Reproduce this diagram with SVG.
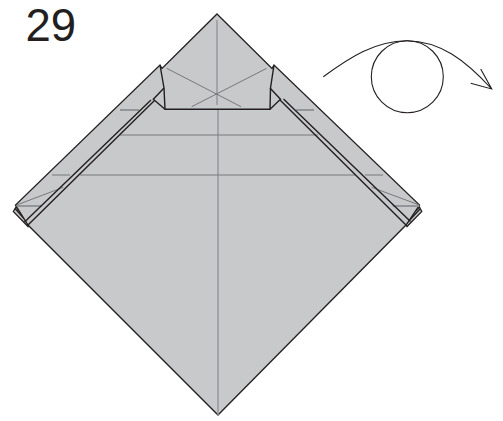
<svg xmlns="http://www.w3.org/2000/svg" width="503" height="421" viewBox="0 0 503 421">
<style>
.p{fill:#c8c9cb;stroke:#231f20;stroke-width:1.3;stroke-linejoin:miter}
.e{fill:none;stroke:#231f20;stroke-width:1.4}
.c{fill:none;stroke:#77787b;stroke-width:1}
.v{fill:none;stroke:#939598;stroke-width:1.4}
.s{fill:none;stroke:#939598;stroke-width:1.8}
.a{fill:none;stroke:#231f20;stroke-width:1.1}
</style>
<rect width="503" height="421" fill="#fff"/>
<text id="step-number" x="25.500" y="41.300" font-family="Liberation Sans, Arial, sans-serif" font-size="45.500" fill="#231f20">29</text>
<g id="paper">
<path class="p" d="M13.300 211.500L16 207L30 222L28 226.500Z"/>
<path class="p" d="M421.800 211.500L419.500 207L405 222L407 226.500Z"/>
<path class="e" d="M15 208.500L28.500 223.500M420 209L406.500 223.500"/>
<path class="p" d="M217 14L272 68.500L274 65L419.500 205L406 225L218 415L28 225L15.500 205L160 65L162 68.500Z"/>
</g>
<g id="creases">
<path class="v" d="M217 20V105M218 110V415"/>
<path class="c" d="M166.700 68.300L241 106.700M266.700 68.300L191.700 106.700"/>
<path class="s" d="M120 110H139M296 110H314M16.700 206H41.700M392.700 206H419"/>
<path class="c" d="M120 135H318M52 175H70M80 175H355M365 175H383"/>
<path class="c" d="M16.700 205L63.300 187.300M419.300 205L371.700 187.300"/>
</g>
<g id="folds">
<path class="e" d="M160 65L164 88L165 109.300H270L270.500 88L274 65"/>
<path class="e" d="M164 88L153.300 99.300L165 109.300M270 88L280.500 99.300L270 109.300"/>
<path class="e" d="M154.500 100.500L28 225M151 100L24.500 222"/>
<path class="e" d="M280 100L406 225M283.500 99L410.500 221.500"/>
</g>
<g id="turn-over-arrow">
<circle class="a" cx="407.300" cy="76.700" r="36"/>
<path class="a" d="M323.300 76.700C350 57 375 41 407 40.700C440 41 465 60 491.700 89M480.700 69L491.700 89L470.700 83.300"/>
</g>
</svg>
